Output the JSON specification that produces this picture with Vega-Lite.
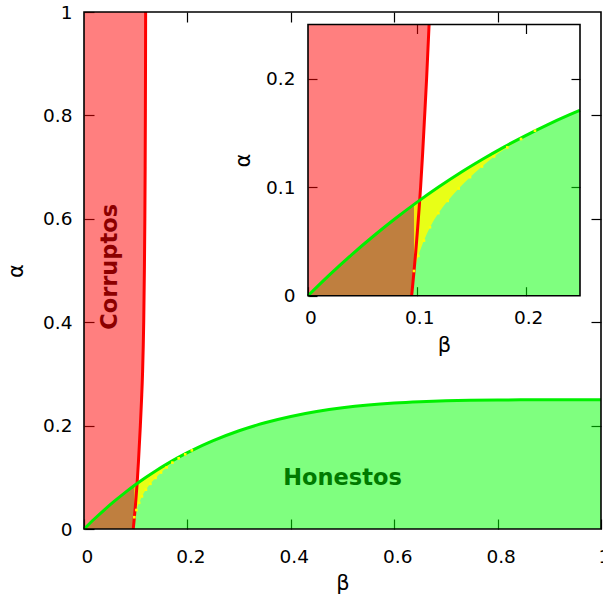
{
  "$schema": "https://vega.github.io/schema/vega-lite/v6.json",
  "width": 517,
  "height": 517,
  "autosize": {"type": "none"},
  "padding": {"left": 84, "top": 12, "right": 2, "bottom": 67},
  "background": "white",
  "config": {
    "view": {"stroke": null},
    "font": "DejaVu Sans",
    "axis": {
      "grid": false,
      "domain": false,
      "tickColor": "black",
      "tickWidth": 1.2,
      "labelColor": "black",
      "titleColor": "black",
      "labelFont": "DejaVu Sans",
      "titleFont": "DejaVu Sans",
      "labelFontSize": 18.5,
      "titleFontSize": 21,
      "titleFontWeight": "normal",
      "labelFlush": false,
      "labelOverlap": false,
      "labelBound": false
    }
  },
  "datasets": {
    "honest": [
      {"b": 0, "a": 0},
      {"b": 0.02, "a": 0.0194},
      {"b": 0.04, "a": 0.0377},
      {"b": 0.06, "a": 0.0548},
      {"b": 0.08, "a": 0.0709},
      {"b": 0.1, "a": 0.086},
      {"b": 0.12, "a": 0.1001},
      {"b": 0.14, "a": 0.1133},
      {"b": 0.16, "a": 0.1255},
      {"b": 0.18, "a": 0.137},
      {"b": 0.2, "a": 0.1476},
      {"b": 0.22, "a": 0.1575},
      {"b": 0.24, "a": 0.1666},
      {"b": 0.25, "a": 0.1709},
      {"b": 0.3, "a": 0.19},
      {"b": 0.35, "a": 0.2054},
      {"b": 0.4, "a": 0.2176},
      {"b": 0.45, "a": 0.2271},
      {"b": 0.5, "a": 0.2344},
      {"b": 0.55, "a": 0.2398},
      {"b": 0.6, "a": 0.2436},
      {"b": 0.65, "a": 0.2462},
      {"b": 0.7, "a": 0.248},
      {"b": 0.8, "a": 0.2496},
      {"b": 0.9, "a": 0.2499},
      {"b": 1, "a": 0.25}
    ],
    "corrupt": [
      {"a": 0, "b": 0.0953},
      {"a": 0.02, "b": 0.0972},
      {"a": 0.04, "b": 0.099},
      {"a": 0.06, "b": 0.1006},
      {"a": 0.08, "b": 0.1021},
      {"a": 0.1, "b": 0.1035},
      {"a": 0.13, "b": 0.1053},
      {"a": 0.16, "b": 0.1069},
      {"a": 0.2, "b": 0.109},
      {"a": 0.25, "b": 0.1113},
      {"a": 0.3, "b": 0.1132},
      {"a": 0.4, "b": 0.1155},
      {"a": 0.5, "b": 0.1168},
      {"a": 0.6, "b": 0.1177},
      {"a": 0.7, "b": 0.1183},
      {"a": 0.8, "b": 0.1187},
      {"a": 0.9, "b": 0.119},
      {"a": 1, "b": 0.1192}
    ],
    "mixed": [
      {"b": 0.0974, "lo": 0.0228, "hi": 0.0841},
      {"b": 0.1014, "lo": 0.0367, "hi": 0.087},
      {"b": 0.1066, "lo": 0.0508, "hi": 0.0907},
      {"b": 0.1121, "lo": 0.0631, "hi": 0.0946},
      {"b": 0.1198, "lo": 0.0761, "hi": 0.0999},
      {"b": 0.1284, "lo": 0.0874, "hi": 0.1057},
      {"b": 0.1385, "lo": 0.0988, "hi": 0.1123},
      {"b": 0.1489, "lo": 0.1093, "hi": 0.1188},
      {"b": 0.1599, "lo": 0.1191, "hi": 0.1255},
      {"b": 0.171, "lo": 0.1284, "hi": 0.1319},
      {"b": 0.1832, "lo": 0.1367, "hi": 0.1387},
      {"b": 0.1958, "lo": 0.1444, "hi": 0.1454},
      {"b": 0.2086, "lo": 0.1521, "hi": 0.1521}
    ]
  },
  "layer": [
    {
      "layer": [
        {
          "data": {"name": "honest"},
          "mark": {"type": "area", "color": "#00ff00", "opacity": 0.5, "interpolate": "monotone"},
          "encoding": {
            "x": {"field": "b", "type": "quantitative", "scale": {"domain": [0, 1], "nice": false},
              "axis": {"orient": "bottom", "values": [0, 0.2, 0.4, 0.6, 0.8, 1], "format": "~g", "tickSize": -10, "labelPadding": 28, "labelOffset": 3, "title": "β", "titlePadding": 7}},
            "y": {"field": "a", "type": "quantitative", "scale": {"domain": [0, 1], "nice": false},
              "axis": {"orient": "left", "values": [0, 0.2, 0.4, 0.6, 0.8, 1], "format": "~g", "tickSize": -10, "labelPadding": 22, "title": "α", "titlePadding": 16}}
          }
        },
        {
          "data": {"name": "corrupt"},
          "mark": {"type": "area", "orient": "horizontal", "color": "#ff0000", "opacity": 0.5, "interpolate": "monotone"},
          "encoding": {
            "y": {"field": "a", "type": "quantitative"},
            "x": {"field": "b", "type": "quantitative"}
          }
        },
        {
          "data": {"name": "mixed"},
          "mark": {"type": "area", "color": "#ffff00", "opacity": 0.82, "interpolate": "monotone"},
          "encoding": {
            "x": {"field": "b", "type": "quantitative"},
            "y": {"field": "lo", "type": "quantitative"},
            "y2": {"field": "hi"}
          }
        },
        {
          "data": {"name": "corrupt"},
          "mark": {"type": "line", "color": "#ff0000", "strokeWidth": 3, "interpolate": "monotone"},
          "encoding": {
            "y": {"field": "a", "type": "quantitative"},
            "x": {"field": "b", "type": "quantitative"},
            "order": {"field": "a", "type": "quantitative"}
          }
        },
        {
          "data": {"name": "honest"},
          "mark": {"type": "line", "color": "#00f000", "strokeWidth": 3, "interpolate": "monotone"},
          "encoding": {
            "x": {"field": "b", "type": "quantitative"},
            "y": {"field": "a", "type": "quantitative"}
          }
        },
        {
          "data": {"name": "mixed"},
          "mark": {"type": "point", "shape": "square", "filled": true, "color": "#ffff00", "opacity": 1, "size": 7},
          "encoding": {
            "x": {"field": "b", "type": "quantitative"},
            "y": {"field": "lo", "type": "quantitative"}
          }
        },
        {
          "data": {"values": [{"b": 0.05, "a": 0.507, "label": "Corruptos"}]},
          "mark": {"type": "text", "angle": 270, "font": "DejaVu Sans", "fontSize": 22.5, "fontWeight": "bold", "color": "#8c0000", "align": "center", "baseline": "middle"},
          "encoding": {
            "x": {"field": "b", "type": "quantitative"},
            "y": {"field": "a", "type": "quantitative"},
            "text": {"field": "label"}
          }
        },
        {
          "data": {"values": [{"b": 0.5, "a": 0.099, "label": "Honestos"}]},
          "mark": {"type": "text", "font": "DejaVu Sans", "fontSize": 22.5, "fontWeight": "bold", "color": "#007a00", "align": "center", "baseline": "middle"},
          "encoding": {
            "x": {"field": "b", "type": "quantitative"},
            "y": {"field": "a", "type": "quantitative"},
            "text": {"field": "label"}
          }
        },
        {
          "data": {"values": [{}]},
          "mark": {"type": "rect", "fill": null, "fillOpacity": 0, "stroke": "black", "strokeWidth": 1.6},
          "encoding": {
            "x": {"datum": 0, "type": "quantitative"},
            "x2": {"datum": 1},
            "y": {"datum": 0, "type": "quantitative"},
            "y2": {"datum": 1}
          }
        }
      ]
    },
    {
      "data": {"name": "honest"},
      "mark": {"type": "point", "opacity": 0},
      "encoding": {
        "x": {"field": "b", "type": "quantitative", "scale": {"domain": [0, 1], "nice": false},
          "axis": {"orient": "top", "values": [0.2, 0.4, 0.6, 0.8], "labels": false, "tickSize": -10, "title": null}},
        "y": {"field": "a", "type": "quantitative", "scale": {"domain": [0, 1], "nice": false},
          "axis": {"orient": "right", "values": [0.2, 0.4, 0.6, 0.8], "labels": false, "tickSize": -10, "title": null}}
      }
    },
    {
      "layer": [
        {
          "data": {"name": "honest"},
          "transform": [{"filter": {"field": "b", "lte": 0.25}}],
          "mark": {"type": "area", "color": "#00ff00", "opacity": 0.5, "interpolate": "monotone"},
          "encoding": {
            "x": {"field": "b", "type": "quantitative", "scale": {"domain": [0, 0.25], "nice": false, "range": [224, 496]},
              "axis": {"orient": "bottom", "offset": -233.3, "values": [0, 0.1, 0.2], "format": "~g", "tickSize": -9, "labelPadding": 22, "labelOffset": 2.5, "title": "β", "titlePadding": 7}},
            "y": {"field": "a", "type": "quantitative", "scale": {"domain": [0, 0.25], "nice": false, "range": [283.7, 12.5]},
              "axis": {"orient": "left", "offset": -224, "values": [0, 0.1, 0.2], "format": "~g", "tickSize": -9, "labelPadding": 22, "title": "α", "titlePadding": 12}}
          }
        },
        {
          "data": {"name": "corrupt"},
          "transform": [{"filter": {"field": "a", "lte": 0.25}}],
          "mark": {"type": "area", "orient": "horizontal", "color": "#ff0000", "opacity": 0.5, "interpolate": "monotone"},
          "encoding": {
            "y": {"field": "a", "type": "quantitative"},
            "x": {"field": "b", "type": "quantitative"}
          }
        },
        {
          "data": {"name": "mixed"},
          "mark": {"type": "area", "color": "#ffff00", "opacity": 0.82, "interpolate": "monotone"},
          "encoding": {
            "x": {"field": "b", "type": "quantitative"},
            "y": {"field": "lo", "type": "quantitative"},
            "y2": {"field": "hi"}
          }
        },
        {
          "data": {"name": "corrupt"},
          "transform": [{"filter": {"field": "a", "lte": 0.25}}],
          "mark": {"type": "line", "color": "#ff0000", "strokeWidth": 3, "interpolate": "monotone"},
          "encoding": {
            "y": {"field": "a", "type": "quantitative"},
            "x": {"field": "b", "type": "quantitative"},
            "order": {"field": "a", "type": "quantitative"}
          }
        },
        {
          "data": {"name": "honest"},
          "transform": [{"filter": {"field": "b", "lte": 0.25}}],
          "mark": {"type": "line", "color": "#00f000", "strokeWidth": 3, "interpolate": "monotone"},
          "encoding": {
            "x": {"field": "b", "type": "quantitative"},
            "y": {"field": "a", "type": "quantitative"}
          }
        },
        {
          "data": {"name": "mixed"},
          "mark": {"type": "point", "shape": "square", "filled": true, "color": "#ffff00", "opacity": 1, "size": 7},
          "encoding": {
            "x": {"field": "b", "type": "quantitative"},
            "y": {"field": "lo", "type": "quantitative"}
          }
        },
        {
          "data": {"values": [{}]},
          "mark": {"type": "rect", "fill": null, "fillOpacity": 0, "stroke": "black", "strokeWidth": 1.6},
          "encoding": {
            "x": {"datum": 0, "type": "quantitative"},
            "x2": {"datum": 0.25},
            "y": {"datum": 0, "type": "quantitative"},
            "y2": {"datum": 0.25}
          }
        }
      ]
    },
    {
      "data": {"name": "honest"},
      "mark": {"type": "point", "opacity": 0},
      "encoding": {
        "x": {"field": "b", "type": "quantitative", "scale": {"domain": [0, 0.25], "nice": false, "range": [224, 496]},
          "axis": {"orient": "top", "offset": -12.5, "values": [0.1, 0.2], "labels": false, "tickSize": -9, "title": null}},
        "y": {"field": "a", "type": "quantitative", "scale": {"domain": [0, 0.25], "nice": false, "range": [283.7, 12.5]},
          "axis": {"orient": "right", "offset": -21, "values": [0.1, 0.2], "labels": false, "tickSize": -9, "title": null}}
      }
    }
  ],
  "resolve": {
    "scale": {"x": "independent", "y": "independent"},
    "axis": {"x": "independent", "y": "independent"}
  }
}
